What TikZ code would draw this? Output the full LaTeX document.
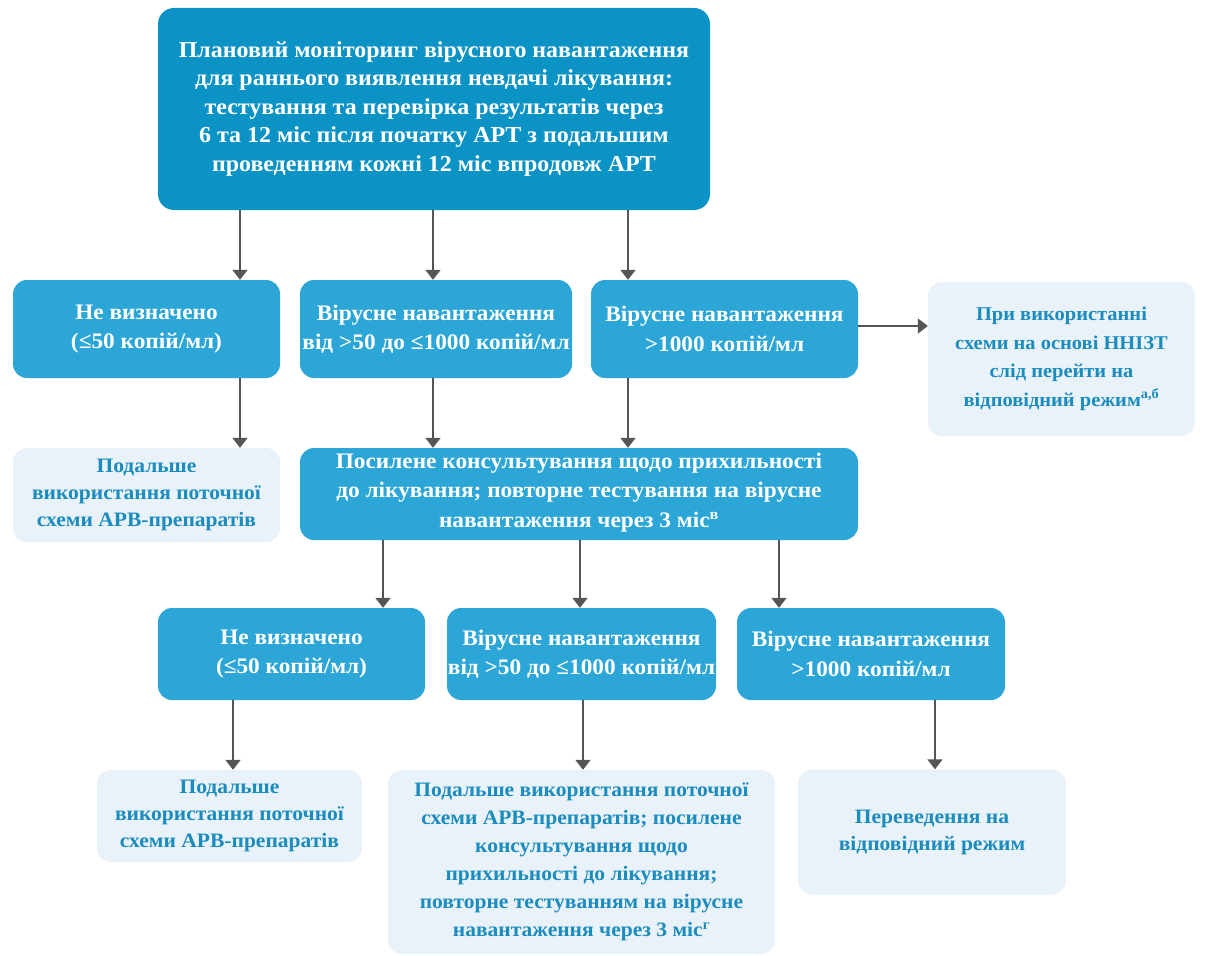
\documentclass[tikz,border=0pt]{standalone}
\usepackage{fontspec}
\setmainfont{Liberation Serif}[FakeStretch=1.05]
\usetikzlibrary{arrows.meta,calc}
\definecolor{dkblue}{HTML}{0C93C6}
\definecolor{mdblue}{HTML}{2BA6D6}
\definecolor{ltbox}{HTML}{E9F1F9}
\definecolor{lttext}{HTML}{1A8CBD}
\definecolor{arrgray}{HTML}{555555}
\begin{document}
\begin{tikzpicture}[x=1pt,y=-1pt,
  topbox/.style={rounded corners=16pt, fill=dkblue, text=white, align=center, inner sep=0pt, font=\bfseries\fontsize{22.8}{28.5}\selectfont},
  midbox/.style={rounded corners=14pt, fill=mdblue, text=white, align=center, inner sep=0pt, font=\bfseries\fontsize{22.2}{29.5}\selectfont},
  outbox/.style={rounded corners=14pt, fill=ltbox, text=lttext, align=center, inner sep=0pt, font=\bfseries\fontsize{20.5}{27}\selectfont},
  arr/.style={draw=arrgray, line width=1.8pt, -{Triangle[width=15pt,length=10pt]}}]
\useasboundingbox (0,0) rectangle (1217,955);
\fill[white] (0,0) rectangle (1217,955);
% top
\node[topbox, minimum width=552pt, minimum height=202pt] (top) at (434,109) {Плановий моніторинг вірусного навантаження\\для раннього виявлення невдачі лікування:\\тестування та перевірка результатів через\\6 та 12 міс після початку АРТ з подальшим\\проведенням кожні 12 міс впродовж АРТ};
% row 1
\node[midbox, minimum width=267pt, minimum height=98pt] (a1) at (146.5,329) {Не визначено\\(≤50 копій/мл)};
\node[midbox, minimum width=272pt, minimum height=98pt] (a2) at (436,329) {Вірусне навантаження\\від >50 до ≤1000 копій/мл};
\node[midbox, minimum width=267pt, minimum height=98pt] (a3) at (724.5,329) {Вірусне навантаження\\>1000 копій/мл};
\node[outbox, minimum width=267pt, minimum height=154pt, font=\bfseries\fontsize{19.5}{28.5}\selectfont] (side) at (1061.5,359) {При використанні\\схеми на основі ННІЗТ\\слід перейти на\\відповідний режим\textsuperscript{а,б}};
% row 2
\node[outbox, minimum width=267pt, minimum height=94pt] (b1) at (146.5,495) {Подальше\\використання поточної\\схеми АРВ-препаратів};
\node[midbox, minimum width=558pt, minimum height=92pt, text depth=8pt] (b2) at (579,494) {Посилене консультування щодо прихильності\\до лікування; повторне тестування на вірусне\\навантаження через 3 міс\textsuperscript{в}};
% row 3
\node[midbox, minimum width=267pt, minimum height=92pt] (c1) at (291.5,654) {Не визначено\\(≤50 копій/мл)};
\node[midbox, minimum width=269pt, minimum height=92pt] (c2) at (581.5,654) {Вірусне навантаження\\від >50 до ≤1000 копій/мл};
\node[midbox, minimum width=268pt, minimum height=92pt] (c3) at (871,654) {Вірусне навантаження\\>1000 копій/мл};
% row 4
\node[outbox, minimum width=265pt, minimum height=92pt] (d1) at (229.5,816) {Подальше\\використання поточної\\схеми АРВ-препаратів};
\node[outbox, minimum width=387pt, minimum height=184pt, font=\bfseries\fontsize{20.5}{28}\selectfont] (d2) at (581.5,862) {Подальше використання поточної\\схеми АРВ-препаратів; посилене\\консультування щодо\\прихильності до лікування;\\повторне тестуванням на вірусне\\навантаження через 3 міс\textsuperscript{г}};
\node[outbox, minimum width=268pt, minimum height=125pt] (d3) at (932,832) {Переведення на\\відповідний режим};
% arrows
\draw[arr] (240,0 |- top.south) -- (240,0 |- a1.north);
\draw[arr] (433,0 |- top.south) -- (433,0 |- a2.north);
\draw[arr] (628,0 |- top.south) -- (628,0 |- a3.north);
\draw[arr] (240,0 |- a1.south) -- (240,0 |- b1.north);
\draw[arr] (433,0 |- a2.south) -- (433,0 |- b2.north);
\draw[arr] (628,0 |- a3.south) -- (628,0 |- b2.north);
\draw[arr] (a3.east |- 0,326) -- (side.west |- 0,326);
\draw[arr] (383,0 |- b2.south) -- (383,0 |- c1.north);
\draw[arr] (580,0 |- b2.south) -- (580,0 |- c2.north);
\draw[arr] (779,0 |- b2.south) -- (779,0 |- c3.north);
\draw[arr] (233,0 |- c1.south) -- (233,0 |- d1.north);
\draw[arr] (583,0 |- c2.south) -- (583,0 |- d2.north);
\draw[arr] (935,0 |- c3.south) -- (935,0 |- d3.north);
\end{tikzpicture}
\end{document}
